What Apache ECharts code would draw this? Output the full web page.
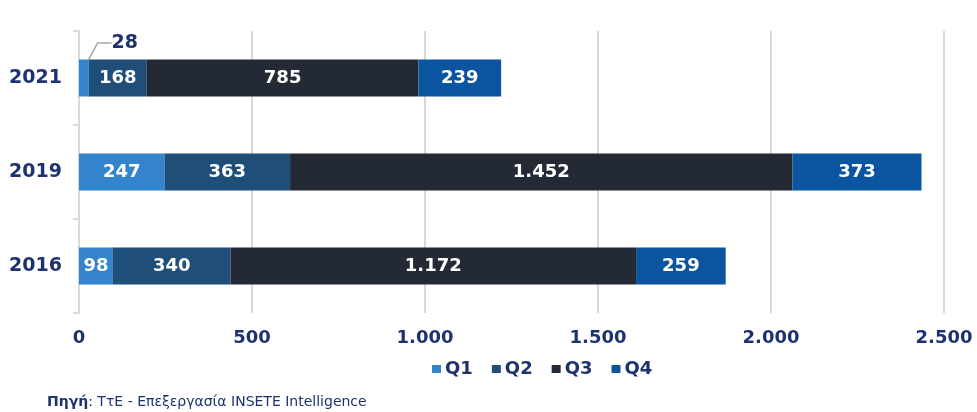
<!DOCTYPE html>
<html>
<head>
<meta charset="utf-8">
<script src="https://cdn.jsdelivr.net/npm/echarts@6/dist/echarts.min.js"></script>
<style>
  html, body { margin: 0; padding: 0; background: #fff; }
  #chart { width: 977px; height: 412px; }
</style>
</head>
<body>
<div id="chart"></div>
<script>
// έτη (από κάτω προς τα πάνω)
var years = ['2016', '2019', '2021'];
var quarters = ['Q1', 'Q2', 'Q3', 'Q4'];
var q1 = [98, 247, 28];
var q2 = [340, 363, 168];
var q3 = [1172, 1452, 785];
var q4 = [259, 373, 239];
var xTicks = [0, 500, 1000, 1500, 2000, 2500];

var colors = ['#3384cc', '#1f4e79', '#232a35', '#0b55a0'];
var navy = '#1f3270';
var font = 'DejaVu Sans';

// 1.000 αντί για 1,000
function fmt(v) {
    return String(v).replace(/\B(?=(\d{3})+(?!\d))/g, '.');
}

var chart = echarts.init(document.getElementById('chart'));

function makeSeries(name, values, idx) {
    return {
        name: name,
        type: 'bar',
        stack: 'total',
        barWidth: 37,
        data: values.map(function (v) { return {value: v}; }),
        itemStyle: {color: colors[idx]},
        label: {
            show: true,
            position: 'inside',
            color: '#fff',
            fontFamily: font,
            fontWeight: 'bold',
            fontSize: 18,
            formatter: function (p) { return fmt(p.value); }
        }
    };
}

var series = [
    makeSeries('Q1', q1, 0),
    makeSeries('Q2', q2, 1),
    makeSeries('Q3', q3, 2),
    makeSeries('Q4', q4, 3)
];

// το μικρό 28 βγαίνει έξω από τη μπάρα με γραμμή
series[0].data[2].label = {color: navy, fontSize: 19};
series[0].data[2].labelLine = {show: true, length2: 14, lineStyle: {color: '#a6a6a6', width: 1.5}};
series[0].labelLayout = function (params) {
    if (params.dataIndex === 2) {
        return {dx: 41, dy: -35};
    }
    return {};
};

chart.setOption({
    animation: false,
    textStyle: {fontFamily: font},
    grid: {left: 79, right: 33, top: 31, bottom: 99},
    title: {
        left: 42,
        top: 390,
        text: '{b|Πηγή}: ΤτΕ - Επεξεργασία INSETE Intelligence',
        textStyle: {
            fontFamily: font,
            fontSize: 14,
            fontWeight: 'normal',
            color: navy,
            rich: {
                b: {fontFamily: font, fontSize: 14, fontWeight: 'bold', color: navy}
            }
        }
    },
    legend: {
        data: quarters,
        left: 427,
        top: 355,
        itemWidth: 9,
        itemHeight: 8,
        itemGap: 19,
        icon: 'rect',
        textStyle: {fontFamily: font, fontWeight: 'bold', fontSize: 18, color: navy, padding: [0, 0, 0, -1]}
    },
    xAxis: {
        type: 'value',
        min: xTicks[0],
        max: xTicks[xTicks.length - 1],
        interval: 500,
        axisLine: {show: false},
        axisTick: {show: false},
        splitLine: {show: true, lineStyle: {color: '#d9d9d9', width: 2}},
        axisLabel: {
            margin: 16,
            color: navy,
            fontFamily: font,
            fontWeight: 'bold',
            fontSize: 18,
            formatter: function (v) { return fmt(v); }
        }
    },
    yAxis: {
        type: 'category',
        data: years,
        axisLine: {show: true, lineStyle: {color: '#d9d9d9', width: 2}},
        axisTick: {show: true, length: 6, lineStyle: {color: '#d9d9d9', width: 2}},
        axisLabel: {
            margin: 17,
            color: navy,
            fontFamily: font,
            fontWeight: 'bold',
            fontSize: 19
        }
    },
    series: series
});

window.addEventListener('resize', function () {
    chart.resize();
});
</script>
</body>
</html>
